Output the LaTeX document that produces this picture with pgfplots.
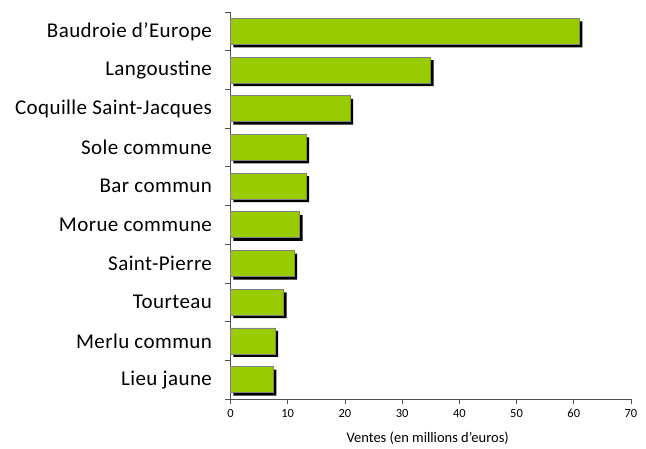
\documentclass[border=0pt]{standalone}
\usepackage{pgfplots}
\pgfplotsset{compat=1.18}
\usepackage{fontspec}
\setmainfont{Carlito}
\definecolor{barg}{HTML}{99CC00}
\definecolor{axg}{HTML}{505050}
\begin{document}
\begin{tikzpicture}[x=1pt,y=1pt]
\begin{axis}[
  at={(0pt,0pt)}, anchor=south west,
  scale only axis, width=400.5pt, height=387pt,
  xmin=0, xmax=70, ymin=-0.5, ymax=9.5, y dir=reverse,
  axis lines*=left,
  axis line style={axg, line width=0.8pt},
  xtick={0,10,...,70},
  ytick={0,...,9},
  yticklabels={Baudroie d’Europe,Langoustine,Coquille Saint-Jacques,Sole commune,Bar commun,Morue commune,Saint-Pierre,Tourteau,Merlu commun,Lieu jaune},
  minor ytick={-0.5,0.5,...,9.5},
  major y tick style={draw=none},
  minor y tick style={axg, line width=0.8pt},
  major x tick style={axg, line width=0.8pt},
  tick align=outside,
  major tick length=5pt, minor tick length=5pt,
  yticklabel style={font=\fontsize{21}{24}\selectfont\addfontfeature{LetterSpace=2}, xshift=-10pt},
  xticklabel style={font=\fontsize{12.5}{14}\selectfont, yshift=-2pt},
  /pgf/number format/assume math mode=true,
  xlabel={Ventes (en millions d'euros)},
  xlabel style={font=\fontsize{14.5}{16}\selectfont, yshift=-7pt, xshift=-3pt},
  clip=false,
  bar width=0.67,
]
\addplot[xbar, fill=black, draw=none, xshift=3pt, yshift=-3pt] coordinates {
(61.0,0) (35.0,1) (20.9,2) (13.2,3) (13.2,4) (12.1,5) (11.1,6) (9.3,7) (7.8,8) (7.5,9)};
\addplot[xbar, fill=barg, draw=gray, line width=0.8pt] coordinates {
(61.0,0) (35.0,1) (20.9,2) (13.2,3) (13.2,4) (12.1,5) (11.1,6) (9.3,7) (7.8,8) (7.5,9)};
\end{axis}
\pgfresetboundingbox
\path (-230.5,-49) rectangle (415.5,399);
\end{tikzpicture}
\end{document}
